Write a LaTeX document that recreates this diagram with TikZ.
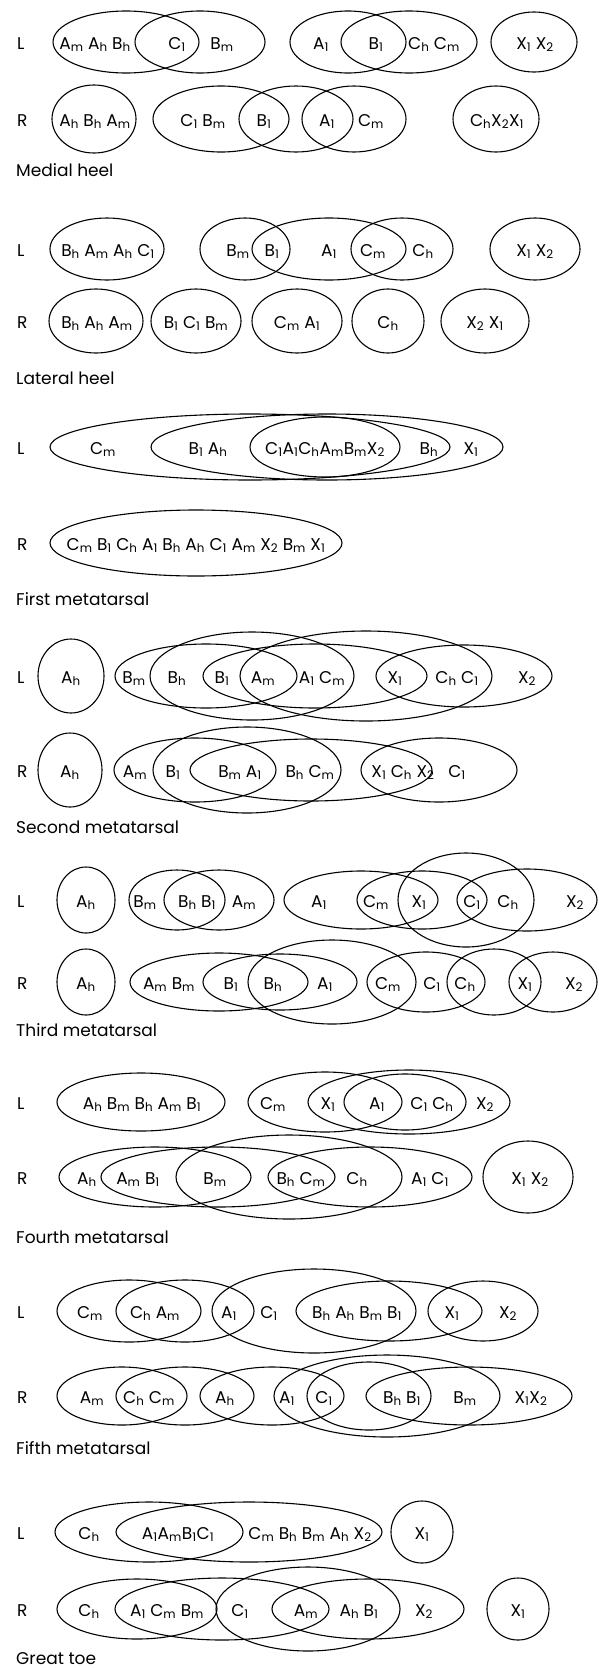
\documentclass[tikz,border=0pt]{standalone}
\usepackage{fontspec}
\setmainfont{Poppins}
\newcommand{\lo}[1]{\textsubscript{#1}}
\tikzset{
  txt/.style={anchor=base, yshift=-7pt, inner sep=0pt},
  lab/.style={anchor=base west, yshift=-7pt, inner sep=0pt},
  title/.style={anchor=base west, inner sep=0pt},
  set/.style={line width=1.1pt}
}
\begin{document}
\begin{tikzpicture}[x=1pt,y=-1pt,font=\fontsize{17}{20}\selectfont]
\useasboundingbox (0,0) rectangle (598,1668);
% medial heel
\node[lab] (mhL) at (17,42) {L};
\draw[set] (126,42) ellipse [x radius=73, y radius=31];
\draw[set] (200,42) ellipse [x radius=65, y radius=31];
\draw[set] (348,42) ellipse [x radius=58, y radius=31];
\draw[set] (409,42) ellipse [x radius=68, y radius=31];
\draw[set] (534,42) ellipse [x radius=43, y radius=30];
\node[txt] (mhL1) at (95,42) {A\lo{m} A\lo{h} B\lo{h}};
\node[txt] (mhL2) at (177,42) {C\lo{1}};
\node[txt] (mhL3) at (222,42) {B\lo{m}};
\node[txt] (mhL4) at (321,42) {A\lo{1}};
\node[txt] (mhL5) at (376,42) {B\lo{1}};
\node[txt] (mhL6) at (434,42) {C\lo{h} C\lo{m}};
\node[txt] (mhL7) at (535,42) {X\lo{1} X\lo{2}};
\node[lab] (mhR) at (17,119) {R};
\draw[set] (94,119) ellipse [x radius=42, y radius=34];
\draw[set] (221,119) ellipse [x radius=68, y radius=33];
\draw[set] (296,119) ellipse [x radius=57, y radius=33];
\draw[set] (354,119) ellipse [x radius=52, y radius=33];
\draw[set] (496,119) ellipse [x radius=43, y radius=33];
\node[txt] (mhR1) at (95,119) {A\lo{h} B\lo{h} A\lo{m}};
\node[txt] (mhR2) at (203,119) {C\lo{1} B\lo{m}};
\node[txt] (mhR3) at (264,119) {B\lo{1}};
\node[txt] (mhR4) at (327,119) {A\lo{1}};
\node[txt] (mhR5) at (371,119) {C\lo{m}};
\node[txt] (mhR6) at (497,119) {C\lo{h}X\lo{2}X\lo{1}};
\node[title] (mh) at (16,176) {Medial heel};
% lateral heel
\node[lab] (lhL) at (17,249) {L};
\draw[set] (107,249) ellipse [x radius=57, y radius=31];
\draw[set] (245,249) ellipse [x radius=45, y radius=31];
\draw[set] (329,249) ellipse [x radius=77, y radius=31];
\draw[set] (402,249) ellipse [x radius=51, y radius=31];
\draw[set] (535,249) ellipse [x radius=45, y radius=31];
\node[txt] (lhL1) at (108,249) {B\lo{h} A\lo{m} A\lo{h} C\lo{1}};
\node[txt] (lhL2) at (238,249) {B\lo{m}};
\node[txt] (lhL3) at (272,249) {B\lo{1}};
\node[txt] (lhL4) at (329,249) {A\lo{1}};
\node[txt] (lhL5) at (373,249) {C\lo{m}};
\node[txt] (lhL6) at (423,249) {C\lo{h}};
\node[txt] (lhL7) at (535,249) {X\lo{1} X\lo{2}};
\node[lab] (lhR) at (17,321) {R};
\draw[set] (96,321) ellipse [x radius=47, y radius=32];
\draw[set] (196,321) ellipse [x radius=45, y radius=32];
\draw[set] (297,321) ellipse [x radius=45, y radius=32];
\draw[set] (388,321) ellipse [x radius=36, y radius=32];
\draw[set] (485,321) ellipse [x radius=44, y radius=32];
\node[txt] (lhR1) at (97,321) {B\lo{h} A\lo{h} A\lo{m}};
\node[txt] (lhR2) at (196,321) {B\lo{1} C\lo{1} B\lo{m}};
\node[txt] (lhR3) at (297,321) {C\lo{m} A\lo{1}};
\node[txt] (lhR4) at (388,321) {C\lo{h}};
\node[txt] (lhR5) at (485,321) {X\lo{2} X\lo{1}};
\node[title] (lh) at (16,384) {Lateral heel};
% first metatarsal
\node[lab] (m1L) at (17,447) {L};
\draw[set] (250,447) ellipse [x radius=200, y radius=33];
\draw[set] (327,447) ellipse [x radius=176, y radius=33];
\draw[set] (325,447) ellipse [x radius=75, y radius=30];
\node[txt] (m1L1) at (103,447) {C\lo{m}};
\node[txt] (m1L2) at (208,447) {B\lo{1} A\lo{h}};
\node[txt] (m1L3) at (325,447) {C\lo{1}A\lo{1}C\lo{h}A\lo{m}B\lo{m}X\lo{2}};
\node[txt] (m1L4) at (429,447) {B\lo{h}};
\node[txt] (m1L5) at (471,447) {X\lo{1}};
\node[lab] (m1R) at (17,543) {R};
\draw[set] (196,543) ellipse [x radius=146, y radius=33];
\node[txt] (m1R1) at (196,543) {C\lo{m} B\lo{1} C\lo{h} A\lo{1} B\lo{h} A\lo{h} C\lo{1} A\lo{m} X\lo{2} B\lo{m} X\lo{1}};
\node[title] (m1) at (16,605) {First metatarsal};
% second metatarsal
\node[lab] (m2L) at (17,676) {L};
\draw[set] (71,676) ellipse [x radius=33, y radius=37];
\draw[set] (206,676) ellipse [x radius=91, y radius=32];
\draw[set] (252,676) ellipse [x radius=102, y radius=44];
\draw[set] (315,676) ellipse [x radius=112, y radius=32];
\draw[set] (366,676) ellipse [x radius=126, y radius=45];
\draw[set] (464,676) ellipse [x radius=88, y radius=31];
\node[txt] (m2L1) at (71,676) {A\lo{h}};
\node[txt] (m2L2) at (134,676) {B\lo{m}};
\node[txt] (m2L3) at (177,676) {B\lo{h}};
\node[txt] (m2L4) at (222,676) {B\lo{1}};
\node[txt] (m2L5) at (263,676) {A\lo{m}};
\node[txt] (m2L6) at (322,676) {A\lo{1} C\lo{m}};
\node[txt] (m2L7) at (395,676) {X\lo{1}};
\node[txt] (m2L8) at (457,676) {C\lo{h} C\lo{1}};
\node[txt] (m2L9) at (527,676) {X\lo{2}};
\node[lab] (m2R) at (17,770) {R};
\draw[set] (70,770) ellipse [x radius=32, y radius=37];
\draw[set] (195,770) ellipse [x radius=81, y radius=32];
\draw[set] (247,770) ellipse [x radius=94, y radius=43];
\draw[set] (311,770) ellipse [x radius=121, y radius=31];
\draw[set] (439,770) ellipse [x radius=78, y radius=32];
\node[txt] (m2R1) at (70,770) {A\lo{h}};
\node[txt] (m2R2) at (135,770) {A\lo{m}};
\node[txt] (m2R3) at (173,770) {B\lo{1}};
\node[txt] (m2R4) at (240,770) {B\lo{m} A\lo{1}};
\node[txt] (m2R5) at (310,770) {B\lo{h} C\lo{m}};
\node[txt] (m2R6) at (403,770) {X\lo{1} C\lo{h} X\lo{2}};
\node[txt] (m2R7) at (457,770) {C\lo{1}};
\node[title] (m2) at (16,833) {Second metatarsal};
% third metatarsal
\node[lab] (m3L) at (17,900) {L};
\draw[set] (86,900) ellipse [x radius=29, y radius=33];
\draw[set] (177,900) ellipse [x radius=48, y radius=30];
\draw[set] (219,900) ellipse [x radius=55, y radius=30];
\draw[set] (361,900) ellipse [x radius=77, y radius=29];
\draw[set] (422,900) ellipse [x radius=65, y radius=29];
\draw[set] (466,900) ellipse [x radius=68, y radius=47];
\draw[set] (527,900) ellipse [x radius=70, y radius=31];
\node[txt] (m3L1) at (86,900) {A\lo{h}};
\node[txt] (m3L2) at (145,900) {B\lo{m}};
\node[txt] (m3L3) at (197,900) {B\lo{h} B\lo{1}};
\node[txt] (m3L4) at (244,900) {A\lo{m}};
\node[txt] (m3L5) at (319,900) {A\lo{1}};
\node[txt] (m3L6) at (376,900) {C\lo{m}};
\node[txt] (m3L7) at (419,900) {X\lo{1}};
\node[txt] (m3L8) at (472,900) {C\lo{1}};
\node[txt] (m3L9) at (508,900) {C\lo{h}};
\node[txt] (m3L10) at (575,900) {X\lo{2}};
\node[lab] (m3R) at (17,982) {R};
\draw[set] (86,982) ellipse [x radius=29, y radius=33];
\draw[set] (219,982) ellipse [x radius=89, y radius=29];
\draw[set] (280,982) ellipse [x radius=77, y radius=28];
\draw[set] (332,982) ellipse [x radius=84, y radius=42];
\draw[set] (426,982) ellipse [x radius=59, y radius=30];
\draw[set] (494,982) ellipse [x radius=47, y radius=33];
\draw[set] (553,982) ellipse [x radius=44, y radius=30];
\node[txt] (m3R1) at (86,982) {A\lo{h}};
\node[txt] (m3R2) at (169,982) {A\lo{m} B\lo{m}};
\node[txt] (m3R3) at (231,982) {B\lo{1}};
\node[txt] (m3R4) at (273,982) {B\lo{h}};
\node[txt] (m3R5) at (325,982) {A\lo{1}};
\node[txt] (m3R6) at (388,982) {C\lo{m}};
\node[txt] (m3R7) at (432,982) {C\lo{1}};
\node[txt] (m3R8) at (465,982) {C\lo{h}};
\node[txt] (m3R9) at (525,982) {X\lo{1}};
\node[txt] (m3R10) at (574,982) {X\lo{2}};
\node[title] (m3) at (16,1036) {Third metatarsal};
% fourth metatarsal
\node[lab] (m4L) at (17,1102) {L};
\draw[set] (141,1102) ellipse [x radius=84, y radius=29];
\draw[set] (325,1102) ellipse [x radius=77, y radius=30];
\draw[set] (409,1102) ellipse [x radius=101, y radius=32];
\draw[set] (405,1102) ellipse [x radius=61, y radius=28];
\node[txt] (m4L1) at (142,1102) {A\lo{h} B\lo{m} B\lo{h} A\lo{m} B\lo{1}};
\node[txt] (m4L2) at (273,1102) {C\lo{m}};
\node[txt] (m4L3) at (328,1102) {X\lo{1}};
\node[txt] (m4L4) at (377,1102) {A\lo{1}};
\node[txt] (m4L5) at (432,1102) {C\lo{1} C\lo{h}};
\node[txt] (m4L6) at (485,1102) {X\lo{2}};
\node[lab] (m4R) at (17,1177) {R};
\draw[set] (155,1177) ellipse [x radius=96, y radius=30];
\draw[set] (218,1177) ellipse [x radius=117, y radius=30];
\draw[set] (289,1177) ellipse [x radius=113, y radius=42];
\draw[set] (370,1177) ellipse [x radius=102, y radius=30];
\draw[set] (528,1177) ellipse [x radius=45, y radius=36];
\node[txt] (m4R1) at (87,1177) {A\lo{h}};
\node[txt] (m4R2) at (138,1177) {A\lo{m} B\lo{1}};
\node[txt] (m4R3) at (215,1177) {B\lo{m}};
\node[txt] (m4R4) at (301,1177) {B\lo{h} C\lo{m}};
\node[txt] (m4R5) at (357,1177) {C\lo{h}};
\node[txt] (m4R6) at (430,1177) {A\lo{1} C\lo{1}};
\node[txt] (m4R7) at (530,1177) {X\lo{1} X\lo{2}};
\node[title] (m4) at (16,1243) {Fourth metatarsal};
% fifth metatarsal
\node[lab] (m5L) at (17,1311) {L};
\draw[set] (129,1311) ellipse [x radius=72, y radius=31];
\draw[set] (185,1311) ellipse [x radius=69, y radius=31];
\draw[set] (314,1311) ellipse [x radius=102, y radius=42];
\draw[set] (389,1311) ellipse [x radius=93, y radius=30];
\draw[set] (483,1311) ellipse [x radius=55, y radius=30];
\node[txt] (m5L1) at (90,1311) {C\lo{m}};
\node[txt] (m5L2) at (155,1311) {C\lo{h} A\lo{m}};
\node[txt] (m5L3) at (229,1311) {A\lo{1}};
\node[txt] (m5L4) at (269,1311) {C\lo{1}};
\node[txt] (m5L5) at (357,1311) {B\lo{h} A\lo{h} B\lo{m} B\lo{1}};
\node[txt] (m5L6) at (452,1311) {X\lo{1}};
\node[txt] (m5L7) at (508,1311) {X\lo{2}};
\node[lab] (m5R) at (17,1396) {R};
\draw[set] (122,1396) ellipse [x radius=65, y radius=29];
\draw[set] (185,1396) ellipse [x radius=69, y radius=29];
\draw[set] (272,1396) ellipse [x radius=72, y radius=29];
\draw[set] (387,1396) ellipse [x radius=113, y radius=41];
\draw[set] (369,1396) ellipse [x radius=62, y radius=34];
\draw[set] (469,1396) ellipse [x radius=103, y radius=29];
\node[txt] (m5R1) at (92,1396) {A\lo{m}};
\node[txt] (m5R2) at (149,1396) {C\lo{h} C\lo{m}};
\node[txt] (m5R3) at (225,1396) {A\lo{h}};
\node[txt] (m5R4) at (287,1396) {A\lo{1}};
\node[txt] (m5R5) at (324,1396) {C\lo{1}};
\node[txt] (m5R6) at (402,1396) {B\lo{h} B\lo{1}};
\node[txt] (m5R7) at (465,1396) {B\lo{m}};
\node[txt] (m5R8) at (531,1396) {X\lo{1}X\lo{2}};
\node[title] (m5) at (16,1454) {Fifth metatarsal};
% great toe
\node[lab] (gtL) at (17,1532) {L};
\draw[set] (149,1532) ellipse [x radius=94, y radius=30];
\draw[set] (249,1532) ellipse [x radius=133, y radius=30];
\draw[set] (422,1532) ellipse [x radius=31, y radius=31];
\node[txt] (gtL1) at (89,1532) {C\lo{h}};
\node[txt] (gtL2) at (178,1532) {A\lo{1}A\lo{m}B\lo{1}C\lo{1}};
\node[txt] (gtL3) at (310,1532) {C\lo{m} B\lo{h} B\lo{m} A\lo{h} X\lo{2}};
\node[txt] (gtL4) at (422,1532) {X\lo{1}};
\node[lab] (gtR) at (17,1609) {R};
\draw[set] (137,1609) ellipse [x radius=80, y radius=30];
\draw[set] (222,1609) ellipse [x radius=107, y radius=31];
\draw[set] (308,1609) ellipse [x radius=92, y radius=42];
\draw[set] (368,1609) ellipse [x radius=96, y radius=30];
\draw[set] (518,1609) ellipse [x radius=31, y radius=31];
\node[txt] (gtR1) at (89,1609) {C\lo{h}};
\node[txt] (gtR2) at (167,1609) {A\lo{1} C\lo{m} B\lo{m}};
\node[txt] (gtR3) at (240,1609) {C\lo{1}};
\node[txt] (gtR4) at (306,1609) {A\lo{m}};
\node[txt] (gtR5) at (359,1609) {A\lo{h} B\lo{1}};
\node[txt] (gtR6) at (424,1609) {X\lo{2}};
\node[txt] (gtR7) at (518,1609) {X\lo{1}};
\node[title] (gt) at (16,1664) {Great toe};
\end{tikzpicture}
\end{document}
